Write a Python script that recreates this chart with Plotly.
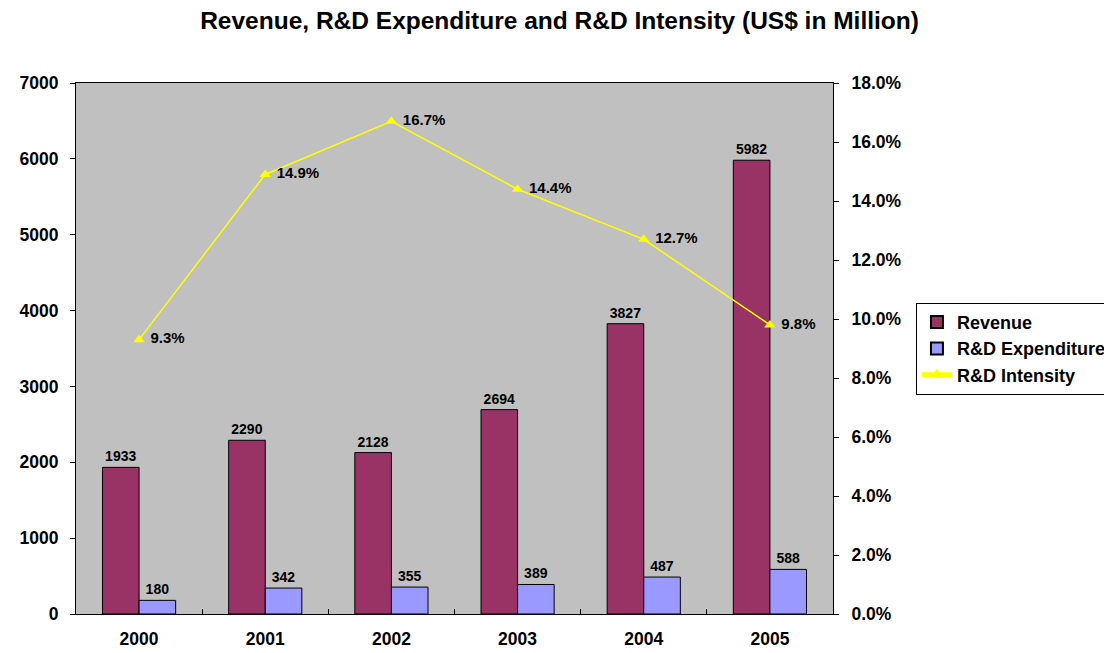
import plotly.graph_objects as go

years = ["2000", "2001", "2002", "2003", "2004", "2005"]
revenue = [1933, 2290, 2128, 2694, 3827, 5982]
rd_exp = [180, 342, 355, 389, 487, 588]
rd_intensity = [9.3, 14.9, 16.7, 14.4, 12.7, 9.8]

FONT = "Liberation Sans, Arial, sans-serif"

fig = go.Figure()
fig.add_trace(go.Bar(
    x=years, y=revenue, name="<b>Revenue</b>",
    marker=dict(color="#993366", line=dict(color="black", width=1)),
    text=[f"<b>{v}</b>" for v in revenue], textposition="outside",
    textfont=dict(family=FONT, size=14, color="black"), cliponaxis=False,
))
fig.add_trace(go.Bar(
    x=years, y=rd_exp, name="<b>R&D Expenditure</b>",
    marker=dict(color="#9999FF", line=dict(color="black", width=1)),
    text=[f"<b>{v}</b>" for v in rd_exp], textposition="outside",
    textfont=dict(family=FONT, size=14, color="black"), cliponaxis=False,
))
fig.add_trace(go.Scatter(
    x=years, y=rd_intensity, name="<b>R&D Intensity</b>", yaxis="y2",
    mode="lines+markers+text",
    line=dict(color="#FFFF00", width=1.5),
    marker=dict(symbol="triangle-up", size=10, color="#FFFF00"),
    text=[f"<b> {v:.1f}%</b>" for v in rd_intensity], textposition="middle right",
    textfont=dict(family=FONT, size=15, color="black"), cliponaxis=False,
))

fig.update_layout(
    width=1112, height=653,
    margin=dict(l=65, r=287, t=75, b=46),
    paper_bgcolor="white", plot_bgcolor="#C0C0C0",
    font=dict(family=FONT, color="black"),
    title=dict(text="<b>Revenue, R&D Expenditure and R&D Intensity (US$ in Million)</b>",
               x=0.496, xref="container", xanchor="center", y=0.9816, yref="container",
               yanchor="middle",
               font=dict(family=FONT, size=24.5, color="black")),
    barmode="group", bargap=0.42, bargroupgap=0,
    xaxis=dict(type="category", showline=True, linecolor="black", linewidth=1, mirror=True,
               ticks="inside", tickson="boundaries", ticklen=5, tickcolor="black",
               tickfont=dict(family=FONT, size=17.5), showgrid=False, ticklabelstandoff=9,
               tickprefix="<b>", ticksuffix="</b>"),
    yaxis=dict(range=[0, 7000], dtick=1000, showline=True, linecolor="black", linewidth=1,
               ticks="outside", ticklen=5, tickcolor="black", showgrid=False, zeroline=False,
               ticklabelstandoff=8,
               tickfont=dict(family=FONT, size=17.5), tickprefix="<b>", ticksuffix="</b>"),
    yaxis2=dict(range=[0, 18], dtick=2, overlaying="y", side="right", showline=True,
                linecolor="black", linewidth=1, ticks="outside", ticklen=5, tickcolor="black",
                showgrid=False, zeroline=False, tickformat=".1f", ticksuffix="%</b>", tickprefix="<b>",
                ticklabelstandoff=9,
                tickfont=dict(family=FONT, size=17.5)),
    legend=dict(xref="container", yref="container", x=0.8165, xanchor="left",
                y=0.478, yanchor="middle",
                bordercolor="black", borderwidth=1, bgcolor="white",
                font=dict(family=FONT, size=18, color="black"),
                tracegroupgap=0, itemsizing="constant"),
    showlegend=True,
)

fig.write_html("out.html")
